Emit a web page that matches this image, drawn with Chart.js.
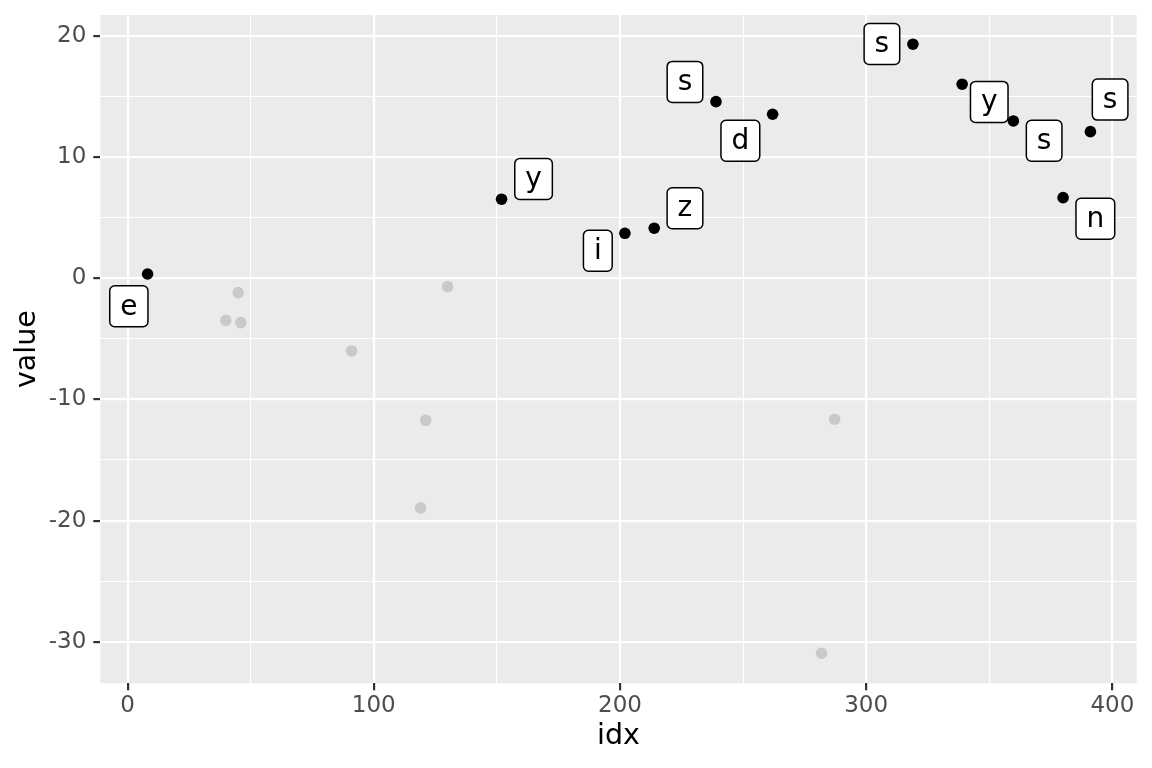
<!DOCTYPE html>
<html>
<head>
<meta charset="utf-8">
<script src="https://cdn.jsdelivr.net/npm/chart.js@4"></script>
<style>
  html, body { margin: 0; padding: 0; background: #fff; }
  #wrap { width: 1152px; height: 768px; }
</style>
</head>
<body>
<div id="wrap"><canvas id="chart" width="1152" height="768"></canvas></div>
<script>
// highlighted points (black) and their letters
const hiIdx   = [8.1, 151.9, 202.0, 213.9, 239.0, 262.0, 319.0, 339.0, 359.8, 380.0, 391.1];
const hiValue = [0.35, 6.52, 3.71, 4.13, 14.57, 13.53, 19.31, 16.01, 12.98, 6.65, 12.10];
const hiLabel = ["e", "y", "i", "z", "s", "d", "s", "y", "s", "n", "s"];

// where each label box ended up (data units)
const labelIdx   = [0.5, 164.9, 191.0, 226.4, 226.4, 248.9, 306.4, 350.0, 372.3, 393.1, 399.1];
const labelValue = [-2.31, 8.19, 2.27, 5.78, 16.20, 11.34, 19.33, 14.55, 11.34, 4.91, 14.74];

// the other points (grey)
const loIdx   = [39.9, 44.9, 46.0, 91.0, 119.0, 121.1, 130.0, 281.9, 287.2];
const loValue = [-3.47, -1.19, -3.66, -6.00, -18.95, -11.72, -0.69, -30.94, -11.63];

// axes
const xTicks = [0, 50, 100, 150, 200, 250, 300, 350, 400];
const xMajor = [0, 100, 200, 300, 400];
const yTicks = [-30, -25, -20, -15, -10, -5, 0, 5, 10, 15, 20];
const yMajor = [-30, -20, -10, 0, 10, 20];
const xRange = [-11.1, 409.9];
const yRange = [-33.42, 21.72];

const FONT = "DejaVu Sans";

const toPts = (xs, ys) => xs.map((x, i) => ({ x: x, y: ys[i] }));

// keep the panel where it is: no extra room for overhanging tick labels
const noOverhang = s => {
  s.paddingTop = 0; s.paddingBottom = 0;
  s.paddingLeft = 0; s.paddingRight = 0;
};

// grey panel behind the grid
const panelBg = {
  id: "panelBg",
  beforeDraw(chart) {
    const { ctx, chartArea: a } = chart;
    ctx.save();
    ctx.fillStyle = "#EBEBEB";
    ctx.fillRect(a.left, a.top, a.right - a.left, a.bottom - a.top);
    ctx.restore();
  }
};

// boxed letters next to the black points
const letterBoxes = {
  id: "letterBoxes",
  afterDatasetsDraw(chart) {
    const { ctx } = chart;
    const xs = chart.scales.x, ys = chart.scales.y;
    ctx.save();
    ctx.font = "28px '" + FONT + "'";
    ctx.textAlign = "center";
    ctx.textBaseline = "middle";
    hiLabel.forEach((txt, i) => {
      const cx = xs.getPixelForValue(labelIdx[i]);
      const cy = ys.getPixelForValue(labelValue[i]);
      const w = ctx.measureText(txt).width + 21;
      const h = 41;
      ctx.beginPath();
      ctx.roundRect(cx - w / 2, cy - h / 2, w, h, 5);
      ctx.fillStyle = "#fff";
      ctx.fill();
      ctx.lineWidth = 1.5;
      ctx.strokeStyle = "#000";
      ctx.stroke();
      ctx.fillStyle = "#000";
      ctx.fillText(txt, cx, cy + 1);
    });
    ctx.restore();
  }
};

new Chart(document.getElementById("chart"), {
  type: "scatter",
  data: {
    datasets: [
      {
        data: toPts(hiIdx, hiValue),
        backgroundColor: "#000",
        borderWidth: 0,
        pointRadius: 5.8,
        pointHoverRadius: 5.8
      },
      {
        data: toPts(loIdx, loValue),
        backgroundColor: "#C9C9C9",
        borderWidth: 0,
        pointRadius: 5.8,
        pointHoverRadius: 5.8
      }
    ]
  },
  options: {
    responsive: false,
    devicePixelRatio: 1,
    animation: false,
    events: [],
    layout: { padding: { top: 15, right: 15.3, left: 0, bottom: 0 } },
    plugins: { legend: { display: false }, tooltip: { enabled: false } },
    scales: {
      x: {
        type: "linear",
        min: xRange[0],
        max: xRange[1],
        afterBuildTicks: s => { s.ticks = xTicks.map(v => ({ value: v })); },
        afterFit: s => { s.height = 84.7; noOverhang(s); },
        border: { display: false },
        grid: {
          color: "#fff",
          lineWidth: c => xMajor.includes(c.tick.value) ? 2.2 : 1.1,
          tickColor: c => xMajor.includes(c.tick.value) ? "#333333" : "rgba(0,0,0,0)",
          tickLength: 7,
          tickWidth: 2.2
        },
        ticks: {
          autoSkip: false,
          maxRotation: 0,
          padding: 1.5,
          color: "#4D4D4D",
          font: { family: FONT, size: 23 },
          callback: v => xMajor.includes(v) ? String(v) : ""
        },
        title: {
          display: true,
          text: "idx",
          color: "#000",
          font: { family: FONT, size: 28.5 },
          padding: { top: 0, bottom: 14 }
        }
      },
      y: {
        type: "linear",
        min: yRange[0],
        max: yRange[1],
        afterBuildTicks: s => { s.ticks = yTicks.map(v => ({ value: v })); },
        afterFit: s => { s.width = 100.3; noOverhang(s); },
        border: { display: false },
        grid: {
          color: "#fff",
          lineWidth: c => yMajor.includes(c.tick.value) ? 2.2 : 1.1,
          tickColor: c => yMajor.includes(c.tick.value) ? "#333333" : "rgba(0,0,0,0)",
          tickLength: 7,
          tickWidth: 2.2
        },
        ticks: {
          autoSkip: false,
          padding: 7,
          color: "#4D4D4D",
          font: { family: FONT, size: 23 },
          callback: v => yMajor.includes(v) ? String(v) : ""
        },
        title: {
          display: true,
          text: "value",
          color: "#000",
          font: { family: FONT, size: 28.5 },
          padding: { top: 10.5, bottom: 0 }
        }
      }
    }
  },
  plugins: [panelBg, letterBoxes]
});
</script>
</body>
</html>
